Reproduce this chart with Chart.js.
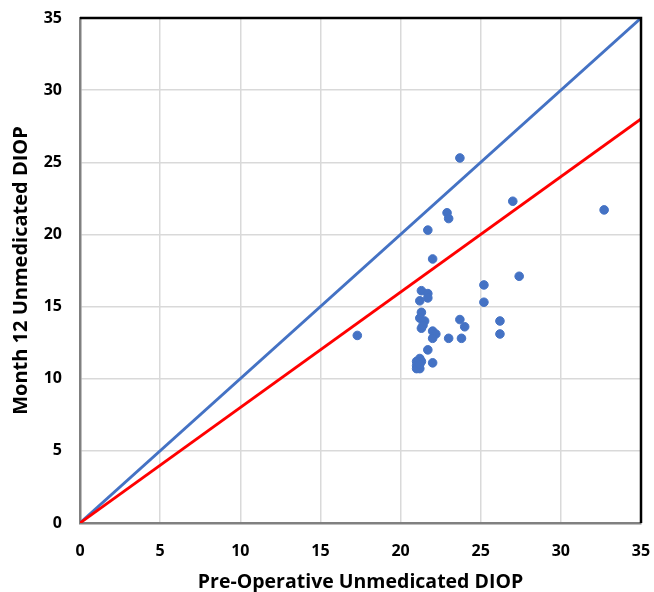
<!DOCTYPE html>
<html>
<head>
<meta charset="utf-8">
<script src="https://cdn.jsdelivr.net/npm/chart.js@4/dist/chart.umd.min.js"></script>
<style>
  body { margin: 0; background: #fff; }
</style>
</head>
<body>
<canvas id="myChart" width="654" height="592"></canvas>
<script>
// pre-op vs month 12 unmedicated DIOP
var preOp = [23.7, 27.0, 22.9, 23.0, 21.7, 22.0, 27.4, 25.2, 21.3, 21.7, 21.7, 21.2, 25.2, 21.3,
    23.7, 21.2, 21.5, 26.2, 24.0, 21.3, 21.4, 22.0, 22.2, 26.2, 22.0, 23.0, 23.8, 17.3, 21.7,
    22.0, 21.2, 21.0, 21.3, 21.0, 21.2, 21.0, 21.2, 32.7];
var month12 = [25.3, 22.3, 21.5, 21.1, 20.3, 18.3, 17.1, 16.5, 16.1, 15.9, 15.6, 15.4, 15.3, 14.6,
    14.1, 14.2, 14.0, 14.0, 13.6, 13.5, 13.7, 13.3, 13.1, 13.1, 12.8, 12.8, 12.8, 13.0, 12.0,
    11.1, 11.4, 11.2, 11.2, 10.9, 10.7, 10.7, 11.0, 21.7];

var unityLine = [[0, 0], [35, 35]];
var eightyLine = [[0, 0], [35, 28]];

var axisTicks = [0, 5, 10, 15, 20, 25, 30, 35];

var pontos = [];
for (var i = 0; i < preOp.length; i++) {
    pontos.push({ x: preOp[i], y: month12[i] });
}

function toXY(arr) {
    var out = [];
    for (var i = 0; i < arr.length; i++) {
        out.push({ x: arr[i][0], y: arr[i][1] });
    }
    return out;
}

var fonte = "'Open Sans', 'DejaVu Sans', sans-serif";

// top and right black frame
var moldura = {
    id: "moldura",
    afterDraw: function (chart) {
        var a = chart.chartArea;
        var c = chart.ctx;
        c.save();
        c.strokeStyle = "#000";
        c.lineWidth = 2.5;
        c.beginPath();
        c.moveTo(a.left, a.top);
        c.lineTo(a.right, a.top);
        c.lineTo(a.right, a.bottom);
        c.stroke();
        c.restore();
    },
};

function semPadding(axis) {
    axis.paddingTop = 0;
    axis.paddingBottom = 0;
    axis.paddingLeft = 0;
    axis.paddingRight = 0;
}

var ctx = document.getElementById("myChart").getContext("2d");

var myChart = new Chart(ctx, {
    type: "scatter",
    data: {
        datasets: [
            {
                label: "DIOP",
                data: pontos,
                backgroundColor: "#4472C4",
                borderColor: "#4472C4",
                pointRadius: 4.3,
                order: 0,
            },
            {
                type: "line",
                label: "y = x",
                data: toXY(unityLine),
                borderColor: "#4472C4",
                borderWidth: 2.8,
                pointRadius: 0,
                order: 2,
            },
            {
                type: "line",
                label: "y = 0.8x",
                data: toXY(eightyLine),
                borderColor: "#FF0000",
                borderWidth: 2.8,
                pointRadius: 0,
                order: 1,
            },
        ],
    },
    options: {
        responsive: false,
        animation: false,
        layout: {
            padding: { top: 18, right: 13, left: 0, bottom: 0 },
        },
        plugins: {
            legend: { display: false },
            tooltip: { enabled: false },
        },
        scales: {
            x: {
                type: "linear",
                min: 0,
                max: 35,
                afterBuildTicks: function (axis) {
                    axis.ticks = axisTicks.map(function (v) { return { value: v }; });
                },
                afterFit: function (axis) {
                    axis.height = 69;
                    semPadding(axis);
                },
                ticks: {
                    color: "#000",
                    font: { family: fonte, size: 16, weight: "bold" },
                    padding: 19,
                    maxRotation: 0,
                },
                grid: { color: "#d9d9d9", lineWidth: 1.5, drawTicks: false },
                border: { color: "#808080", width: 2.5 },
                title: {
                    display: true,
                    text: "Pre-Operative Unmedicated DIOP",
                    color: "#000",
                    font: { family: fonte, size: 19.5, weight: "bold" },
                    padding: { top: 0, bottom: -2 },
                },
            },
            y: {
                type: "linear",
                min: 0,
                max: 35,
                afterBuildTicks: function (axis) {
                    axis.ticks = axisTicks.map(function (v) { return { value: v }; });
                },
                afterFit: function (axis) {
                    axis.width = 80;
                    semPadding(axis);
                },
                ticks: {
                    color: "#000",
                    font: { family: fonte, size: 16, weight: "bold" },
                    padding: 18,
                },
                grid: { color: "#d9d9d9", lineWidth: 1.5, drawTicks: false },
                border: { color: "#808080", width: 2.5 },
                title: {
                    display: true,
                    text: "Month 12 Unmedicated DIOP",
                    color: "#000",
                    font: { family: fonte, size: 20, weight: "bold" },
                    padding: { top: 9, bottom: 0 },
                },
            },
        },
    },
    plugins: [moldura],
});
</script>
</body>
</html>
